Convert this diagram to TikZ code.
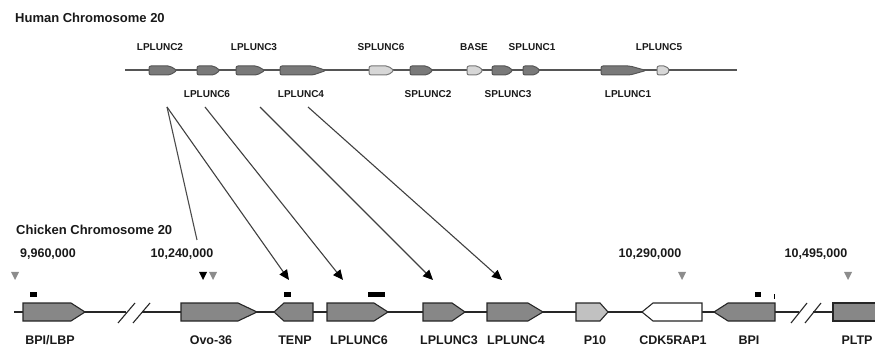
\documentclass[tikz,border=0pt]{standalone}
\usepackage{fontspec}
\setmainfont{Liberation Sans}
\usetikzlibrary{arrows.meta,patterns}
\definecolor{genedark}{RGB}{135,135,135}
\definecolor{genelight}{RGB}{215,215,215}
\definecolor{hline}{RGB}{85,85,85}
\definecolor{markgray}{RGB}{140,140,140}
\tikzset{
  ttl/.style={font=\fontsize{13}{13}\selectfont\bfseries, text=black!90, anchor=west, inner sep=0},
  hlab/.style={font=\fontsize{10}{10}\selectfont\bfseries, text=black!90, inner sep=0},
  clab/.style={font=\fontsize{12.5}{12.5}\selectfont\bfseries, text=black!90, inner sep=0},
  hgene/.style={draw=hline, fill=genedark!90!black, line width=1pt, rounded corners=2pt},
  hgenel/.style={draw=hline!80, fill=genelight, line width=1pt, rounded corners=2pt},
  cgene/.style={draw=black!85, fill=genedark, line width=1.1pt},
  cgenel/.style={draw=black!85, fill=genelight!90!black, line width=1.1pt},
  cgenew/.style={draw=black!85, fill=white, line width=1.1pt},
  mapar/.style={draw=black!75, line width=1.1pt, -{Triangle[length=10pt,width=9pt,color=black]}},
  mapln/.style={draw=black!70, line width=1.1pt},
  brk/.style={draw=black!85, line width=1.1pt},
  mk/.style={fill=markgray},
  mkb/.style={fill=black},
  bar/.style={fill=black},
}
% right-pointing gene: x1 rect start, x2 taper start, x3 tip, y mid, half-height, style
\newcommand\geneR[6]{\draw[#6] (#1,#4-#5) -- (#2,#4-#5) -- (#3,#4) -- (#2,#4+#5) -- (#1,#4+#5) -- cycle;}
% left-pointing gene: x1 tip, x2 taper end, x3 rect end
\newcommand\geneL[6]{\draw[#6] (#3,#4-#5) -- (#2,#4-#5) -- (#1,#4) -- (#2,#4+#5) -- (#3,#4+#5) -- cycle;}
\newcommand\downtri[3]{\fill[#3] (#1-4,#2) -- (#1+4,#2) -- (#1,#2+8) -- cycle;}
\begin{document}
\begin{tikzpicture}[x=1pt,y=-1pt]
\useasboundingbox (0,0) rectangle (875,347);
% ---------- Human ----------
\node[ttl] (htitle) at (15,18) {Human Chromosome 20};
\draw[hline, line width=2pt] (125,70.5) -- (737,70.5);
\geneR{149}{170}{177}{70.5}{4.5}{hgene}
\geneR{197}{214}{220}{70.5}{4.5}{hgene}
\geneR{236}{257}{265}{70.5}{4.5}{hgene}
\geneR{280}{313}{326}{70.5}{4.5}{hgene}
\geneR{369}{388}{394}{70.5}{4.5}{hgenel}
\geneR{410}{427}{433}{70.5}{4.5}{hgene}
\geneR{467}{478}{483}{70.5}{4.5}{hgenel}
\geneR{492}{507}{513}{70.5}{4.5}{hgene}
\geneR{523}{535}{540}{70.5}{4.5}{hgene}
\geneR{601}{630}{646}{70.5}{4.5}{hgene}
\geneR{657}{666}{670}{70.5}{4.5}{hgenel}
\node[hlab] (hL2) at (160,47) {LPLUNC2};
\node[hlab] (hL3) at (254,47) {LPLUNC3};
\node[hlab] (hS6) at (381,47) {SPLUNC6};
\node[hlab] (hBA) at (474,47) {BASE};
\node[hlab] (hS1) at (532,47) {SPLUNC1};
\node[hlab] (hL5) at (659,47) {LPLUNC5};
\node[hlab] (hL6) at (207,94) {LPLUNC6};
\node[hlab] (hL4) at (301,94) {LPLUNC4};
\node[hlab] (hS2) at (428,94) {SPLUNC2};
\node[hlab] (hS3) at (508,94) {SPLUNC3};
\node[hlab] (hL1) at (628,94) {LPLUNC1};
% ---------- Chicken ----------
\node[ttl] (ctitle) at (16,230) {Chicken Chromosome 20};
\node[clab] (p1) at (48,254) {9,960,000};
\node[clab] (p2) at (182,254) {10,240,000};
\node[clab] (p3) at (650,254) {10,290,000};
\node[clab] (p4) at (816,254) {10,495,000};
\downtri{15}{272}{mk}
\downtri{203}{272}{mkb}
\downtri{213}{272}{mk}
\downtri{682}{272}{mk}
\downtri{848}{272}{mk}
% chromosome line
\draw[black!85, line width=1.1pt] (14,312) -- (875,312);
% breaks
\fill[white] (117,305) rectangle (153,319);
\draw[brk] (118,323) -- (135,303);
\draw[brk] (133,323) -- (150,303);
\draw[brk] (105,312) -- (126,312);
\draw[brk] (142,312) -- (180,312);
\fill[white] (789,305) rectangle (824,319);
\draw[brk] (791,323) -- (807,303);
\draw[brk] (805,323) -- (821,303);
\draw[brk] (775,312) -- (799,312);
\draw[brk] (813,312) -- (833,312);
% genes
\geneR{23}{71}{85}{312}{9}{cgene}
\geneR{181}{238}{257}{312}{9}{cgene}
\geneL{274}{284}{313}{312}{9}{cgene}
\geneR{327}{374}{388}{312}{9}{cgene}
\geneR{423}{452}{465}{312}{9}{cgene}
\geneR{487}{528}{543}{312}{9}{cgene}
\geneR{576}{600}{608}{312}{9}{cgenel}
\geneL{642}{653}{702}{312}{9}{cgenew}
\geneL{714}{728}{775}{312}{9}{cgene}
\draw[cgene] (878,303) -- (833,303) -- (833,321) -- (878,321);
% small bars
\fill[bar] (30,292) rectangle (37,297);
\fill[bar] (284,292) rectangle (291,297);
\fill[bar] (368,292) rectangle (385,297);
\fill[bar] (755,292) rectangle (761,297);
\fill[bar] (773.5,294) rectangle (775,299);
% labels
\node[clab] (cBL) at (50,340) {BPI/LBP};
\node[clab] (cOv) at (211,340) {Ovo-36};
\node[clab] (cTE) at (295,340) {TENP};
\node[clab] (cL6) at (359,340) {LPLUNC6};
\node[clab] (cL3) at (449,340) {LPLUNC3};
\node[clab] (cL4) at (516,340) {LPLUNC4};
\node[clab] (cP1) at (595,340) {P10};
\node[clab] (cCD) at (673,340) {CDK5RAP1};
\node[clab] (cBP) at (749,340) {BPI};
\node[clab] (cPL) at (857,340) {PLTP};
% mapping arrows
\coordinate (o2) at (167,107);
\coordinate (o6) at (205,107);
\coordinate (o3) at (260,107);
\coordinate (o4) at (308,107);
\coordinate (tOv) at (197,240);
\coordinate (tTE) at (289,280);
\coordinate (tL6) at (343,280);
\coordinate (tL3) at (433,280);
\coordinate (tL4) at (502,280);
\draw[mapln] (o2) -- (tOv);
\draw[mapar] (o2) -- (tTE);
\draw[mapar] (o6) -- (tL6);
\draw[mapar] (o3) -- (tL3);
\draw[mapar] (o4) -- (tL4);
\end{tikzpicture}
\end{document}
